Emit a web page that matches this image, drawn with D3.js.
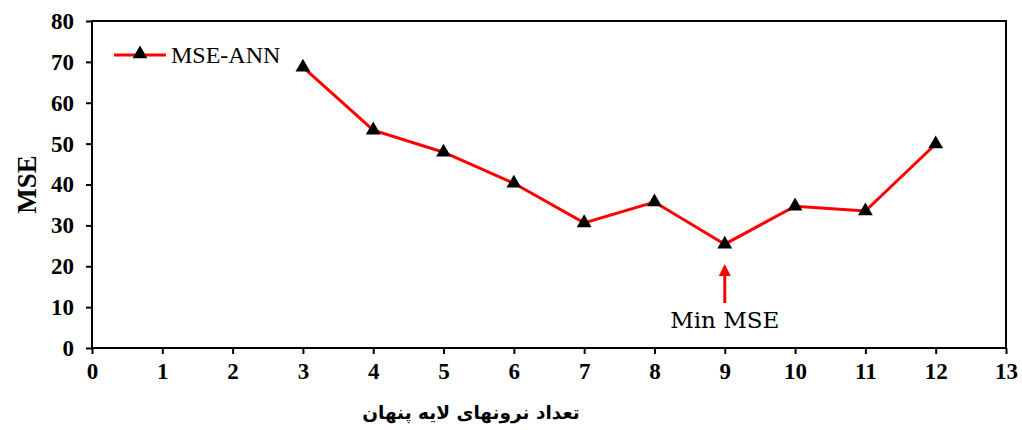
<!DOCTYPE html>
<html>
<head>
<meta charset="utf-8">
<script src="https://cdn.jsdelivr.net/npm/d3@7"></script>
<style>
  body { margin: 0; background: #fff; }
</style>
</head>
<body>
<svg id="chart" width="1022" height="430"></svg>
<script>
// data
var neurons = [3, 4, 5, 6, 7, 8, 9, 10, 11, 12]
var mse = [68.7, 53.3, 47.9, 40.3, 30.6, 35.7, 25.4, 34.7, 33.5, 49.9]
var xTicks = d3.range(0, 14)
var yTicks = [0, 10, 20, 30, 40, 50, 60, 70, 80]
var seriesName = "MSE-ANN"
var minLabel = "Min MSE"

var data = neurons.map((n, i) => ({x: n, y: mse[i]}))

var serif = "'Liberation Serif', 'Times New Roman', serif"

var svg = d3.select("#chart"),
    margin = {top: 21, left: 92, bottom: 82, right: 16},
    width = +svg.attr("width"),
    height = +svg.attr("height");

var x = d3.scaleLinear().domain([0, 13]).range([margin.left, width - margin.right])
var y = d3.scaleLinear().domain([0, 80]).range([height - margin.bottom, margin.top])

// frame
svg.append("rect")
   .attr("x", x(0)).attr("y", y(80))
   .attr("width", x(13) - x(0)).attr("height", y(0) - y(80))
   .attr("fill", "none").attr("stroke", "#000").attr("stroke-width", 2)

var xAxis = svg.append("g")
   .attr("transform", `translate(0,${y(0)})`)
   .call(d3.axisBottom(x).tickValues(xTicks).tickSize(6).tickPadding(9).tickSizeOuter(0))

var yAxis = svg.append("g")
   .attr("transform", `translate(${x(0)},0)`)
   .call(d3.axisLeft(y).tickValues(yTicks).tickSize(6).tickPadding(12).tickSizeOuter(0))

svg.selectAll(".domain").remove()
;[xAxis, yAxis].forEach(g => {
  g.attr("font-family", serif).attr("font-size", 23).attr("font-weight", "bold")
  g.selectAll("line").attr("stroke", "#000").attr("stroke-width", 2)
  g.selectAll("text").attr("fill", "#000")
})

// line
var line = d3.line().x(d => x(d.x)).y(d => y(d.y))
svg.append("path")
   .datum(data)
   .attr("d", line)
   .attr("fill", "none")
   .attr("stroke", "#ff0000")
   .attr("stroke-width", 3)

var tri = d3.symbol().type(d3.symbolTriangle).size(95)
svg.selectAll(".pt")
   .data(data)
   .enter().append("path")
   .attr("class", "pt")
   .attr("transform", d => `translate(${x(d.x)},${y(d.y)})`)
   .attr("d", tri)
   .attr("fill", "#000")

// legend
svg.append("line").attr("x1", 114).attr("x2", 166).attr("y1", 55).attr("y2", 55)
   .attr("stroke", "#ff0000").attr("stroke-width", 3)
svg.append("path").attr("d", tri).attr("transform", "translate(140,54)").attr("fill", "#000")
svg.append("text").attr("x", 171).attr("y", 63).text(seriesName)
   .attr("font-family", serif).attr("font-size", 24)

// min annotation
var minI = mse.indexOf(d3.min(mse))
var ax = x(neurons[minI])
svg.append("defs").append("marker")
   .attr("id", "head").attr("viewBox", "0 0 10 10")
   .attr("refX", 5).attr("refY", 5)
   .attr("markerWidth", 4).attr("markerHeight", 4)
   .attr("orient", "auto")
   .append("path").attr("d", "M0,0L10,5L0,10z").attr("fill", "#ff0000")
svg.append("line")
   .attr("x1", ax).attr("x2", ax)
   .attr("y1", 303).attr("y2", 270)
   .attr("stroke", "#ff0000").attr("stroke-width", 3)
   .attr("marker-end", "url(#head)")
svg.append("text").attr("x", ax).attr("y", 328).attr("text-anchor", "middle")
   .text(minLabel)
   .attr("font-family", "'DejaVu Serif', serif").attr("font-size", 23)

// axis titles
svg.append("text")
   .attr("transform", `translate(36,${(y(0) + y(80)) / 2}) rotate(-90)`)
   .attr("text-anchor", "middle")
   .text("MSE")
   .attr("font-family", serif).attr("font-weight", "bold").attr("font-size", 27)

svg.append("text")
   .attr("x", 471).attr("y", 419)
   .attr("text-anchor", "middle")
   .attr("direction", "rtl")
   .text("تعداد نرونهای لایه پنهان")
   .attr("font-family", "'DejaVu Sans', sans-serif").attr("font-weight", "bold").attr("font-size", 18.5)
</script>
</body>
</html>
